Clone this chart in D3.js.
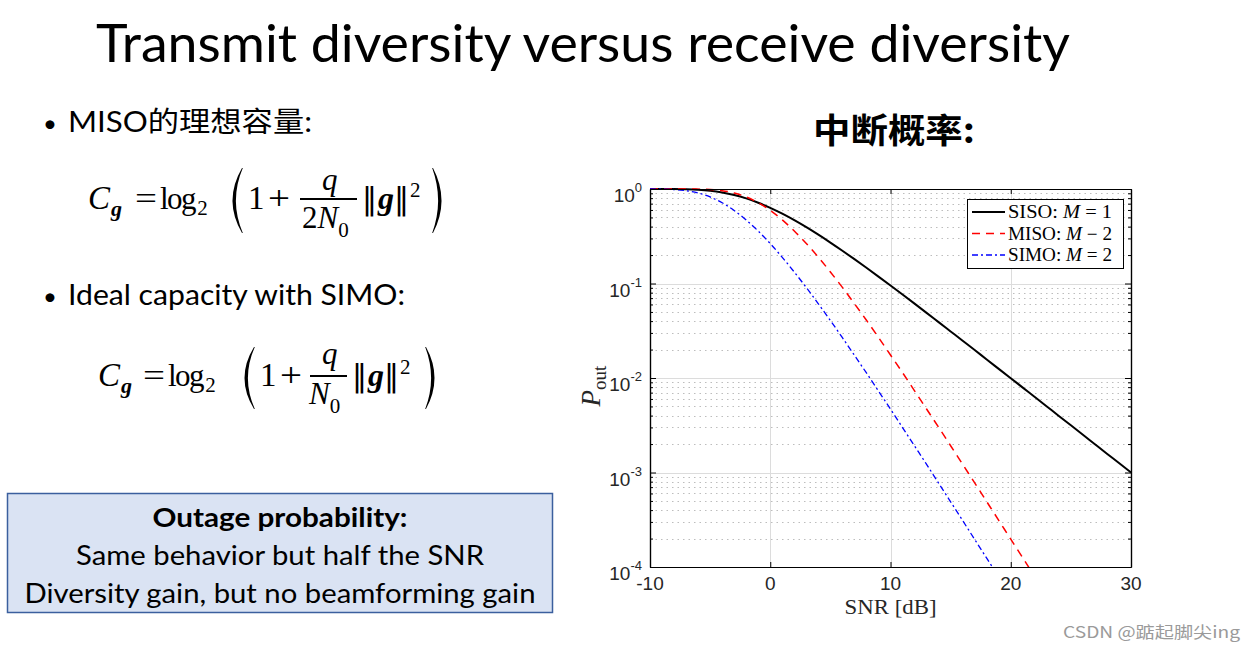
<!DOCTYPE html>
<html>
<head>
<meta charset="utf-8">
<script src="https://cdn.jsdelivr.net/npm/d3@7"></script>
<style>
  html, body { margin: 0; padding: 0; background: #ffffff; }
  svg { display: block; }
</style>
</head>
<body>
<svg id="chart" width="1255" height="651"></svg>
<script>
// ---------------- data ----------------
const snrDb = [-10,-9,-8,-7,-6,-5,-4,-3,-2,-1,0,1,2,3,4,5,6,7,8,9,10,11,12,13,14,15,16,17,18,19,20,21,22,23,24,25,26,27,28,29,30];
const sisoOut = [0.99995,0.99965,0.9982,0.9934,0.9813,0.9577,0.9189,0.8640,0.7950,0.7161,0.6321,0.5481,0.4679,0.3942,0.3284,0.2711,0.2221,0.1809,0.1466,0.1183,0.0952,0.0764,0.0612,0.0489,0.0390,0.0311,0.0248,0.0198,0.0157,0.0125,0.00995,0.00791,0.00629,0.00500,0.00397,0.00316,0.00251,0.00199,0.00158,0.00126,0.00100];
const misoOut = [1.0,1.0,0.99996,0.9995,0.9969,0.9869,0.9604,0.9077,0.8248,0.7163,0.5940,0.4714,0.3596,0.2651,0.1899,0.1326,0.0909,0.0612,0.0408,0.0269,0.0175,0.0114,0.00732,0.00470,0.00301,0.00192,0.00122,0.000776,0.000492,0.000312,0.000197,0.000125,0.0000789,null,null,null,null,null,null,null,null];
const simoOut = [0.9995,0.9968,0.9867,0.9600,0.9070,0.8238,0.7150,0.5927,0.4701,0.3587,0.2642,0.1892,0.1321,0.0906,0.0610,0.0406,0.0267,0.0174,0.0113,0.00729,0.00468,0.00299,0.00191,0.00122,0.000772,0.000490,0.000310,0.000196,0.000124,0.0000786,null,null,null,null,null,null,null,null,null,null,null];
const seriesNames = ["SISO: ", "MISO: ", "SIMO: "];
const seriesM = ["M = 1", "M \u2212 2", "M = 2"];
const xTicks = [-10, 0, 10, 20, 30];
const xTickLabels = ["-10", "0", "10", "20", "30"];
const yTicks = [1, 1e-1, 1e-2, 1e-3, 1e-4];
const yTickExps = ["0", "-1", "-2", "-3", "-4"];
const slideTitle = "Transmit diversity versus receive diversity";
const bullet1 = "MISO的理想容量:";
const bullet2 = "Ideal capacity with SIMO:";
const chartTitle = "中断概率:";
const boxLines = ["Outage probability:", "Same behavior but half the SNR", "Diversity gain, but no beamforming gain"];
const watermark = "CSDN @踮起脚尖ing";

// ---------------- layout ----------------
const svg = d3.select("#chart");
const sans = "Lato, 'Open Sans', 'Noto Sans CJK SC', sans-serif";
const serif = "'Liberation Serif', 'DejaVu Serif', serif";
const axFont = "'Liberation Sans', Arial, sans-serif";

// slide title
svg.append("text").attr("x", 96).attr("y", 62)
  .attr("font-family", sans).attr("font-size", 52).attr("fill", "#000")
  .attr("textLength", 974).attr("lengthAdjust", "spacingAndGlyphs")
  .text(slideTitle);

// bullets
svg.append("text").attr("x", 43).attr("y", 132).attr("font-family", sans).attr("font-size", 24).text("\u2022");
svg.append("text").attr("x", 68).attr("y", 132).attr("font-family", sans).attr("font-size", 28)
  .attr("textLength", 244).attr("lengthAdjust", "spacingAndGlyphs").text(bullet1);
svg.append("text").attr("x", 43).attr("y", 305).attr("font-family", sans).attr("font-size", 24).text("\u2022");
svg.append("text").attr("x", 68).attr("y", 305).attr("font-family", sans).attr("font-size", 28)
  .attr("textLength", 337).attr("lengthAdjust", "spacingAndGlyphs").text(bullet2);

// formulas
function glyph(t, x, y, size, opts = {}) {
  const el = svg.append("text").attr("x", x).attr("y", y)
    .attr("font-family", opts.family || serif).attr("font-size", size)
    .attr("font-style", opts.italic ? "italic" : "normal")
    .attr("font-weight", opts.bold ? "bold" : "normal")
    .attr("fill", "#000").text(t);
  if (opts.len) el.attr("textLength", opts.len).attr("lengthAdjust", "spacingAndGlyphs");
  return el;
}
function paren(xEdge, top, bottom, bulge, left) {
  const mid = (top + bottom) / 2;
  const xc = left ? xEdge - bulge : xEdge + bulge;
  const w = left ? 6 : -6;
  const e = left ? 0.8 : -0.8;
  const p = `M${xEdge},${top} Q${xc},${mid} ${xEdge},${bottom} L${xEdge + e},${bottom} Q${xc + w},${mid} ${xEdge + e},${top} Z`;
  svg.append("path").attr("d", p).attr("fill", "#000");
}
function formula(o) {
  const c = svg.append("text").attr("x", o.cx).attr("y", o.base).attr("font-family", serif).attr("fill", "#000");
  c.append("tspan").attr("font-size", 33).attr("font-style", "italic").text("C");
  c.append("tspan").attr("font-size", 22).attr("font-style", "italic").attr("font-weight", "bold").attr("dy", 7).attr("dx", 1).text("g");
  glyph("=", o.eqx, o.base, 32, {len: 22});
  const lg2 = svg.append("text").attr("x", o.logx).attr("y", o.base).attr("font-family", serif).attr("fill", "#000");
  lg2.append("tspan").attr("font-size", 31).attr("letter-spacing", -1.5).text("log");
  lg2.append("tspan").attr("font-size", 21).attr("dy", 6).attr("dx", 2).attr("letter-spacing", 0).text("2");
  paren(o.lp + 19, o.pt, o.pb, 19, true);
  glyph("1", o.lp + 25, o.base, 33);
  glyph("+", o.lp + 45, o.base, 33, {len: 22});
  glyph("q", o.qx, o.qy, 31, {italic: true});
  svg.append("line").attr("x1", o.barx1).attr("x2", o.barx2).attr("y1", o.bary).attr("y2", o.bary)
    .attr("stroke", "#000").attr("stroke-width", 1.8);
  const den = svg.append("text").attr("x", o.denx).attr("y", o.deny).attr("font-family", serif).attr("fill", "#000");
  if (o.two) den.append("tspan").attr("font-size", 31).text("2");
  den.append("tspan").attr("font-size", 31).attr("font-style", "italic").text("N");
  den.append("tspan").attr("font-size", 21).attr("dy", 9).text("0");
  const nm = svg.append("text").attr("x", o.nx).attr("y", o.base).attr("fill", "#000");
  nm.append("tspan").attr("font-family", "'DejaVu Sans', sans-serif").attr("font-size", 30).text("\u2016");
  nm.append("tspan").attr("font-family", serif).attr("font-size", 32).attr("font-style", "italic").attr("font-weight", "bold").attr("dx", 1).text("g");
  nm.append("tspan").attr("font-family", "'DejaVu Sans', sans-serif").attr("font-size", 30).text("\u2016");
  nm.append("tspan").attr("font-family", serif).attr("font-size", 21).attr("dy", -12).attr("dx", 1).text("2");
  paren(o.rp, o.pt, o.pb, 17, false);
}
formula({cx: 88, base: 209, eqx: 135, logx: 160, lp: 223, pt: 168, pb: 233,
  qx: 322, qy: 190, barx1: 300, barx2: 357, bary: 199, two: true, denx: 302, deny: 228, nx: 362, rp: 433});
formula({cx: 98, base: 386, eqx: 143, logx: 168, lp: 235, pt: 347, pb: 409,
  qx: 322, qy: 364, barx1: 310, barx2: 347, bary: 376, two: false, denx: 309, deny: 404, nx: 352, rp: 426});

// box
svg.append("rect").attr("x", 7.5).attr("y", 493.5).attr("width", 545).attr("height", 119)
  .attr("fill", "#dae3f3").attr("stroke", "#3b5f9e").attr("stroke-width", 1.5);
const boxCx = 280;
[[527, "bold", 255], [565, "normal", 408], [603, "normal", 511]].forEach((d, i) => {
  svg.append("text").attr("x", boxCx).attr("y", d[0]).attr("text-anchor", "middle")
    .attr("font-family", sans).attr("font-size", 27).attr("font-weight", d[1])
    .attr("textLength", d[2]).attr("lengthAdjust", "spacingAndGlyphs").text(boxLines[i]);
});

// chart title
svg.append("text").attr("x", 813).attr("y", 143)
  .attr("font-family", "'Noto Sans CJK SC', sans-serif").attr("font-weight", "bold").attr("font-size", 34)
  .attr("textLength", 162).attr("lengthAdjust", "spacingAndGlyphs").text(chartTitle);

// watermark
svg.append("text").attr("x", 1063).attr("y", 638)
  .attr("font-family", "'Noto Sans CJK SC', sans-serif").attr("font-size", 16).attr("fill", "#9a9a9a")
  .attr("textLength", 177).attr("lengthAdjust", "spacingAndGlyphs").text(watermark);

// ---------------- chart ----------------
const L = 650, R = 1131, T = 189, B = 567;
const x = d3.scaleLinear().domain([-10, 30]).range([L, R]);
const y = d3.scaleLog().domain([1e-4, 1]).range([B, T]);

const minors = [];
for (let e = -4; e < 0; e++) for (let k = 2; k <= 9; k++) minors.push(k * Math.pow(10, e));

const g = svg.append("g");
g.selectAll(".ymin").data(minors).join("line")
  .attr("x1", L).attr("x2", R).attr("y1", d => Math.round(y(d)) + 0.5).attr("y2", d => Math.round(y(d)) + 0.5)
  .attr("stroke", "#bdbdbd").attr("stroke-width", 1).attr("stroke-dasharray", "1.5,4");
g.selectAll(".ymaj").data(yTicks).join("line")
  .attr("x1", L).attr("x2", R).attr("y1", d => Math.round(y(d)) + 0.5).attr("y2", d => Math.round(y(d)) + 0.5)
  .attr("stroke", "#dcdcdc").attr("stroke-width", 1);
g.selectAll(".xmaj").data(xTicks).join("line")
  .attr("x1", d => Math.round(x(d)) + 0.5).attr("x2", d => Math.round(x(d)) + 0.5).attr("y1", T).attr("y2", B)
  .attr("stroke", "#dcdcdc").attr("stroke-width", 1);

svg.append("clipPath").attr("id", "clip").append("rect").attr("x", L).attr("y", T - 1).attr("width", R - L).attr("height", B - T + 1);

const lineGen = vals => d3.line()
  .defined((d, i) => vals[i] !== null)
  .x((d, i) => x(snrDb[i]))
  .y((d, i) => y(vals[i]))
  .curve(d3.curveMonotoneX)(vals);

const series = [
  {vals: sisoOut, color: "#000000", width: 2, dash: null},
  {vals: misoOut, color: "#ff0000", width: 1.5, dash: "8,6"},
  {vals: simoOut, color: "#0000ff", width: 1.3, dash: "6,3,2,3"}
];
const plot = svg.append("g").attr("clip-path", "url(#clip)");
series.forEach(s => {
  plot.append("path").attr("d", lineGen(s.vals)).attr("fill", "none")
    .attr("stroke", s.color).attr("stroke-width", s.width)
    .attr("stroke-dasharray", s.dash);
});

function styleAxis(sel) {
  sel.selectAll("path.domain").attr("stroke", "#000").attr("stroke-width", 1.2);
  sel.selectAll(".tick line").attr("stroke", "#000").attr("stroke-width", 1);
  sel.selectAll(".tick text").remove();
}
svg.append("g").attr("transform", `translate(${L},0)`)
  .call(d3.axisLeft(y).tickValues(yTicks).tickSizeInner(-6).tickSizeOuter(0).tickFormat("")).call(styleAxis);
svg.append("g").attr("transform", `translate(${L},0)`)
  .call(d3.axisLeft(y).tickValues(minors).tickSizeInner(-3).tickSizeOuter(0).tickFormat("")).call(styleAxis);
svg.append("g").attr("transform", `translate(${R},0)`)
  .call(d3.axisRight(y).tickValues(yTicks).tickSizeInner(-6).tickSizeOuter(0).tickFormat("")).call(styleAxis);
svg.append("g").attr("transform", `translate(${R},0)`)
  .call(d3.axisRight(y).tickValues(minors).tickSizeInner(-3).tickSizeOuter(0).tickFormat("")).call(styleAxis);
svg.append("g").attr("transform", `translate(0,${B})`)
  .call(d3.axisBottom(x).tickValues(xTicks).tickSizeInner(-5).tickSizeOuter(0).tickFormat("")).call(styleAxis);
svg.append("g").attr("transform", `translate(0,${T})`)
  .call(d3.axisTop(x).tickValues(xTicks).tickSizeInner(-5).tickSizeOuter(0).tickFormat("")).call(styleAxis);

yTicks.forEach((v, i) => {
  const t = svg.append("text").attr("x", L - 8).attr("y", y(v) + 13).attr("text-anchor", "end")
    .attr("font-family", axFont).attr("font-size", 19).attr("fill", "#262626");
  t.append("tspan").text("10");
  t.append("tspan").attr("dy", -10).attr("font-size", 13).text(yTickExps[i]);
});
xTicks.forEach((v, i) => {
  svg.append("text").attr("x", x(v)).attr("y", B + 23).attr("text-anchor", "middle")
    .attr("font-family", axFont).attr("font-size", 19).attr("fill", "#262626").text(xTickLabels[i]);
});

svg.append("text").attr("x", (L + R) / 2).attr("y", 614).attr("text-anchor", "middle")
  .attr("font-family", serif).attr("font-size", 21).attr("fill", "#262626")
  .attr("textLength", 92).attr("lengthAdjust", "spacingAndGlyphs").text("SNR [dB]");
const yl = svg.append("text").attr("transform", `translate(600,${(T + B) / 2 + 8}) rotate(-90)`)
  .attr("text-anchor", "middle").attr("font-family", serif).attr("fill", "#262626");
yl.append("tspan").attr("font-size", 27).attr("font-style", "italic").text("P");
yl.append("tspan").attr("font-size", 19).attr("dy", 6).text("out");

const lg = svg.append("g");
lg.append("rect").attr("x", 967.5).attr("y", 199.5).attr("width", 156).attr("height", 69)
  .attr("fill", "#ffffff").attr("stroke", "#000").attr("stroke-width", 1);
series.forEach((s, i) => {
  const yy = 212 + i * 21.5;
  lg.append("line").attr("x1", 972).attr("x2", 1005).attr("y1", yy).attr("y2", yy)
    .attr("stroke", s.color).attr("stroke-width", s.width).attr("stroke-dasharray", s.dash);
  const t = lg.append("text").attr("x", 1008).attr("y", yy + 6).attr("font-family", serif)
    .attr("font-size", 18).attr("fill", "#000")
    .attr("textLength", 104).attr("lengthAdjust", "spacingAndGlyphs");
  t.append("tspan").text(seriesNames[i]);
  t.append("tspan").attr("font-style", "italic").text(seriesM[i].slice(0, 1));
  t.append("tspan").text(seriesM[i].slice(1));
});
</script>
</body>
</html>
